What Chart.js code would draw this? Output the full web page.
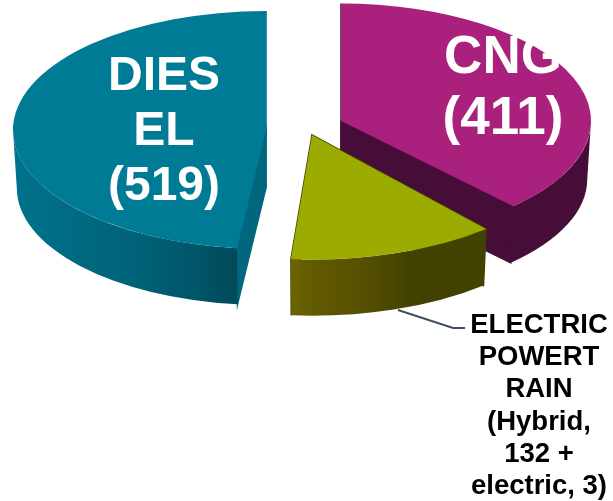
<!DOCTYPE html>
<html>
<head>
<meta charset="utf-8">
<title>Fuel types</title>
<script src="https://cdn.jsdelivr.net/npm/chart.js@4"></script>
<style>
html, body { margin: 0; padding: 0; background: #fff; }
canvas { display: block; }
</style>
</head>
<body>
<canvas id="grafico" width="613" height="501"></canvas>
<script>
const categorias = ['CNG', 'ELECTRIC POWERTRAIN', 'DIESEL'];
const valores = [411, 135, 519];
const coresTopo = ['#a9217c', '#9cab00', '#007b96'];
const rotuloCng = ['CNG', '(411)'];
const rotuloDiesel = ['DIES', 'EL', '(519)'];
const rotuloEletrico = ['ELECTRIC', 'POWERT', 'RAIN', '(Hybrid,', '132 +', 'electric, 3)'];

// y squash of the pie and thickness of the 3d wall
const achatar = 0.47;
const altura = 58;
// the lower rim is a bit smaller, the picture has perspective
const base = 0.985;
// where each exploded slice sits: apex x, apex y, radius, and the small
// angle nudges (degrees) that the perspective of the original gives
const fatias = [
    { x: 341, y: 121, r: 250, ini: 0, fim: -2.5 },
    { x: 312, y: 135, r: 265, ini: 0, fim: 0 },
    { x: 266, y: 130, r: 253, ini: 2, fim: 0 }
];

function gradiente(ctx, x0, x1, paradas) {
    const g = ctx.createLinearGradient(x0, 0, x1, 0);
    paradas.forEach(p => g.addColorStop(p[0], p[1]));
    return g;
}

function parede(ctx, el, fill) {
    const cx = el.x, cy = el.y * achatar, r = el.outerRadius, ry = r * achatar;
    // cut faces
    [el.startAngle, el.endAngle].forEach(a => {
        const px = cx + Math.cos(a) * r, py = cy + Math.sin(a) * ry;
        const qx = cx + Math.cos(a) * r * base, qy = cy + Math.sin(a) * ry * base;
        ctx.beginPath();
        ctx.moveTo(cx, cy);
        ctx.lineTo(px, py);
        ctx.lineTo(qx, qy + altura);
        ctx.lineTo(cx, cy + altura);
        ctx.closePath();
        ctx.fillStyle = fill.corte;
        ctx.strokeStyle = fill.corte;
        ctx.lineWidth = 1.5;
        ctx.fill();
        ctx.stroke();
    });
    // outer wall, only the part facing us
    const a1 = Math.max(el.startAngle, 0), a2 = Math.min(el.endAngle, Math.PI);
    if (a2 > a1) {
        ctx.beginPath();
        ctx.ellipse(cx, cy, r, ry, 0, a1, a2);
        ctx.ellipse(cx, cy + altura, r * base, ry * base, 0, a2, a1, true);
        ctx.closePath();
        ctx.fillStyle = fill.fora;
        ctx.fill();
    }
}

const pizza3d = {
    id: 'pizza3d',
    afterDatasetsUpdate(chart) {
        chart.getDatasetMeta(0).data.forEach((el, i) => {
            el.x = fatias[i].x;
            el.y = fatias[i].y / achatar;
            el.outerRadius = fatias[i].r;
            el.startAngle += fatias[i].ini * Math.PI / 180;
            el.endAngle += fatias[i].fim * Math.PI / 180;
            el.circumference = el.endAngle - el.startAngle;
        });
    },
    beforeDatasetsDraw(chart) {
        const ctx = chart.ctx;
        const arcos = chart.getDatasetMeta(0).data;
        const estilos = [
            { corte: '#450d38', fora: '#450d38' },
            { corte: '#424200', fora: gradiente(ctx, 291, 488, [[0, '#6a6400'], [0.12, '#625a00'], [0.35, '#565000'], [0.6, '#424200'], [1, '#424200']]) },
            { corte: '#00677f', fora: gradiente(ctx, 13, 237, [[0, '#00728b'], [0.5, '#00647a'], [0.8, '#00566a'], [1, '#004a59']]) }
        ];
        arcos.forEach((el, i) => parede(ctx, el, estilos[i]));
        ctx.save();
        ctx.scale(1, achatar);
    },
    afterDatasetsDraw(chart) {
        const ctx = chart.ctx;
        ctx.restore();

        // leader line of the electric slice
        ctx.strokeStyle = '#3f4d63';
        ctx.lineWidth = 2;
        ctx.beginPath();
        ctx.moveTo(398, 310);
        ctx.lineTo(453, 328);
        ctx.lineTo(465, 328);
        ctx.stroke();

        ctx.textAlign = 'center';
        ctx.textBaseline = 'alphabetic';
        ctx.fillStyle = '#fff';
        ctx.font = 'bold 48px "Liberation Sans"';
        rotuloDiesel.forEach((t, i) => ctx.fillText(t, 164, 90 + i * 55));
        ctx.font = 'bold 53px "Liberation Sans"';
        rotuloCng.forEach((t, i) => ctx.fillText(t, 503, 73 + i * 61));
        ctx.fillStyle = '#000';
        ctx.font = 'bold 27.5px "Liberation Sans"';
        rotuloEletrico.forEach((t, i) => ctx.fillText(t, 539, 333 + i * 32.2));
    }
};

new Chart(document.getElementById('grafico'), {
    type: 'pie',
    data: {
        labels: categorias,
        datasets: [{
            data: valores,
            backgroundColor: coresTopo,
            borderWidth: 0,
            clip: false
        }]
    },
    options: {
        responsive: false,
        animation: false,
        events: [],
        plugins: {
            legend: { display: false },
            tooltip: { enabled: false }
        }
    },
    plugins: [pizza3d]
});
</script>
</body>
</html>
